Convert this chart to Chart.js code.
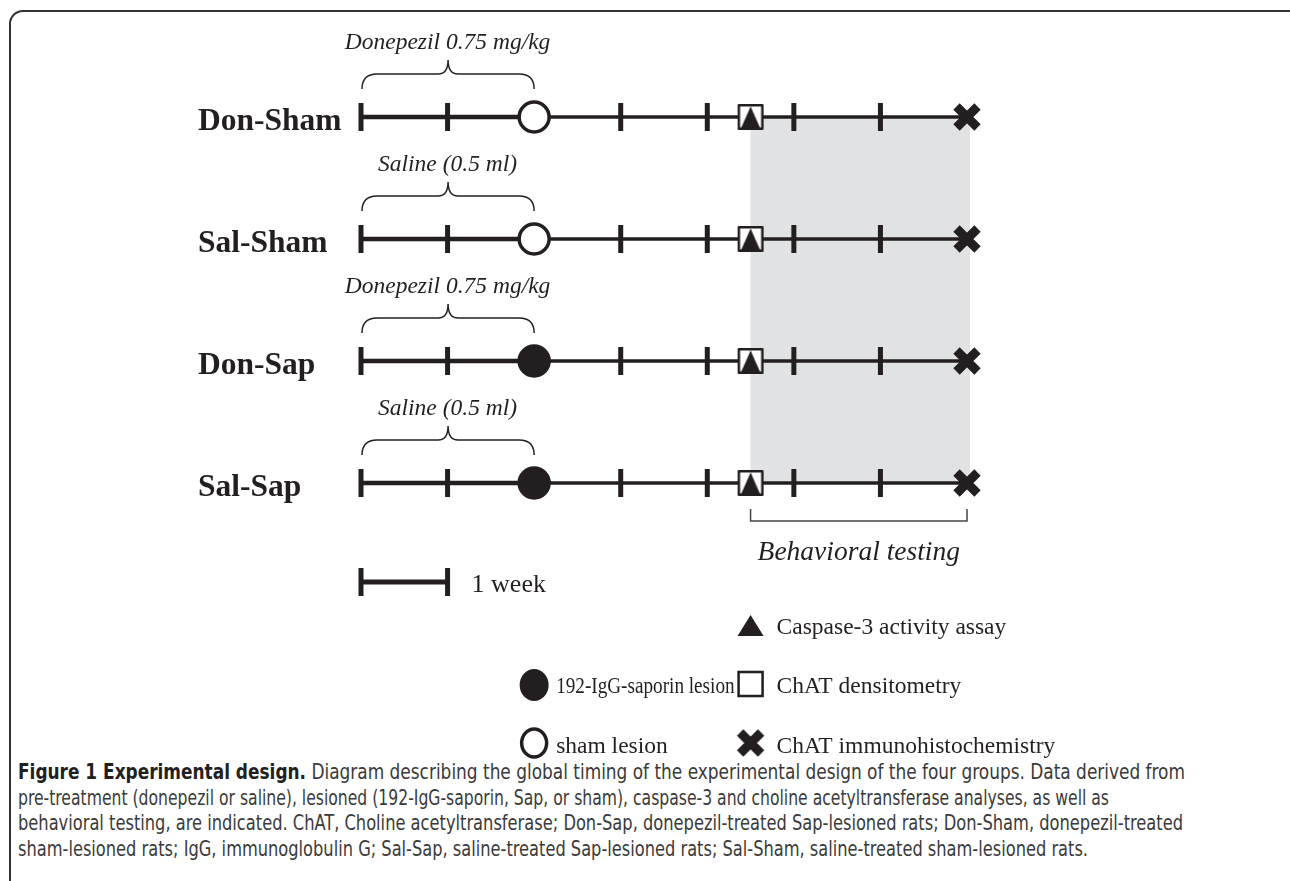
<!DOCTYPE html>
<html>
<head>
<meta charset="utf-8">
<title>Experimental design</title>
<script src="https://cdn.jsdelivr.net/npm/chart.js@4.4.1/dist/chart.umd.min.js"></script>
<style>
    html, body { margin: 0; padding: 0; background: #fff; width: 1290px; height: 881px; overflow: hidden; }
    #frame { position: absolute; left: 9px; top: 10px; width: 1300px; height: 940px; border: 2px solid #333; border-radius: 14px; box-sizing: border-box; }
    #chart { position: absolute; left: 0; top: 0; }
    #caption { position: absolute; left: 18px; top: 760px; font-family: "Liberation Sans Narrow", "DejaVu Sans Condensed", "Open Sans", sans-serif; font-size: 21px; line-height: 25.7px; color: #3a3a3a; }
    #caption div { white-space: nowrap; transform-origin: left center; width: max-content; }
    #caption b { color: #231f20; }
</style>
</head>
<body>
<div id="frame"></div>
<canvas id="chart" width="1290" height="760"></canvas>
<div id="caption">
    <div><b>Figure 1 Experimental design.</b> Diagram describing the global timing of the experimental design of the four groups. Data derived from</div>
    <div>pre-treatment (donepezil or saline), lesioned (192-IgG-saporin, Sap, or sham), caspase-3 and choline acetyltransferase analyses, as well as</div>
    <div>behavioral testing, are indicated. ChAT, Choline acetyltransferase; Don-Sap, donepezil-treated Sap-lesioned rats; Don-Sham, donepezil-treated</div>
    <div>sham-lesioned rats; IgG, immunoglobulin G; Sal-Sap, saline-treated Sap-lesioned rats; Sal-Sham, saline-treated sham-lesioned rats.</div>
</div>
<script>
// groups and their timelines (weeks)
const groups = ["Don-Sham", "Sal-Sham", "Don-Sap", "Sal-Sap"];
const pretreatments = ["Donepezil 0.75 mg/kg", "Saline (0.5 ml)", "Donepezil 0.75 mg/kg", "Saline (0.5 ml)"];
const lesionTypes = ["sham", "sham", "sap", "sap"];
const tickWeeks = [0, 1, 3, 4, 5, 6];
const pretreatStart = 0;
const lesionWeek = 2;
const caspaseWeek = 4.5;
const ihcWeek = 7;
const behaviorStart = 4.5;
const behaviorEnd = 7;
const timelineEnd = 7;
const scaleBarWeeks = 1;
const legendLeft = ["192-IgG-saporin lesion", "sham lesion"];
const legendRight = ["Caspase-3 activity assay", "ChAT densitometry", "ChAT immunohistochemistry"];

const ink = "#231f20";
const serif = "'Liberation Serif', 'Times New Roman', serif";

// pixel layout of the week axis and the rows
const W = 1290, H = 760;
const week0Px = 361, pxPerWeek = 606 / 7;
const row0Px = 117, pxPerRow = 122;

function makeAssayIcon() {
    const c = document.createElement("canvas");
    c.width = 28; c.height = 28;
    const g = c.getContext("2d");
    g.fillStyle = "#fff";
    g.fillRect(2, 2, 24, 24);
    g.fillStyle = ink;
    g.beginPath();
    g.moveTo(14, 3.5); g.lineTo(23.5, 25); g.lineTo(4.5, 25); g.closePath();
    g.fill();
    g.strokeStyle = ink; g.lineWidth = 2.5; g.lineJoin = "round";
    g.strokeRect(2.25, 2.25, 23.5, 23.5);
    return c;
}

function makeCrossIcon() {
    const c = document.createElement("canvas");
    c.width = 30; c.height = 30;
    const g = c.getContext("2d");
    g.strokeStyle = ink; g.lineWidth = 9; g.lineCap = "butt";
    g.beginPath();
    g.moveTo(4.5, 4.5); g.lineTo(25.5, 25.5);
    g.moveTo(25.5, 4.5); g.lineTo(4.5, 25.5);
    g.stroke();
    return c;
}

const assayIcon = makeAssayIcon();
const crossIcon = makeCrossIcon();

function drawBrace(ctx, xl, xr, yTip, yEnd) {
    const xc = (xl + xr) / 2;
    const yMid = yTip + 14;
    ctx.beginPath();
    ctx.moveTo(xl, yEnd);
    ctx.quadraticCurveTo(xl, yMid, xl + 15, yMid);
    ctx.lineTo(xc - 10, yMid);
    ctx.quadraticCurveTo(xc, yMid, xc, yTip);
    ctx.quadraticCurveTo(xc, yMid, xc + 10, yMid);
    ctx.lineTo(xr - 15, yMid);
    ctx.quadraticCurveTo(xr, yMid, xr, yEnd);
    ctx.stroke();
}

const diagramPlugin = {
    id: "diagram",
    beforeDatasetsDraw(chart) {
        const { ctx, scales: { x, y } } = chart;
        ctx.save();
        ctx.fillStyle = "#e1e2e4";
        const bx0 = x.getPixelForValue(behaviorStart);
        const bx1 = x.getPixelForValue(behaviorEnd) + 3;
        const by0 = y.getPixelForValue(0);
        const by1 = y.getPixelForValue(groups.length - 1);
        ctx.fillRect(bx0, by0, bx1 - bx0, by1 - by0);
        ctx.restore();
    },
    afterDatasetsDraw(chart) {
        const { ctx, scales: { x, y } } = chart;
        ctx.save();
        ctx.fillStyle = ink;
        ctx.strokeStyle = ink;

        groups.forEach((g, i) => {
            const ry = y.getPixelForValue(i);
            ctx.font = "bold 31.5px " + serif;
            ctx.textAlign = "left";
            ctx.textBaseline = "alphabetic";
            ctx.fillText(g, 198, ry + 13);

            ctx.font = "italic 23.5px " + serif;
            ctx.textAlign = "center";
            const xl = x.getPixelForValue(pretreatStart);
            const xr = x.getPixelForValue(lesionWeek);
            ctx.fillText(pretreatments[i], (xl + xr) / 2, ry - 68);
            ctx.lineWidth = 1.5;
            drawBrace(ctx, xl + 1, xr, ry - 57, ry - 28);
        });

        // behavioral testing bracket
        const bx0 = x.getPixelForValue(behaviorStart);
        const bx1 = x.getPixelForValue(behaviorEnd);
        const bY = 521;
        ctx.strokeStyle = "#444";
        ctx.lineWidth = 1.5;
        ctx.beginPath();
        ctx.moveTo(bx0, bY - 12); ctx.lineTo(bx0, bY); ctx.lineTo(bx1, bY); ctx.lineTo(bx1, bY - 12);
        ctx.stroke();
        ctx.font = "italic 27.5px " + serif;
        ctx.textAlign = "center";
        ctx.fillText("Behavioral testing", (bx0 + bx1) / 2, 560);

        // 1 week scale bar
        const sx0 = x.getPixelForValue(0), sx1 = x.getPixelForValue(scaleBarWeeks);
        const sY = 582;
        ctx.strokeStyle = ink;
        ctx.lineWidth = 5;
        ctx.beginPath();
        ctx.moveTo(sx0, sY); ctx.lineTo(sx1, sY);
        ctx.moveTo(sx0, sY - 14); ctx.lineTo(sx0, sY + 14);
        ctx.moveTo(sx1, sY - 14); ctx.lineTo(sx1, sY + 14);
        ctx.stroke();
        ctx.font = "26px " + serif;
        ctx.textAlign = "left";
        ctx.fillText("1 week", sx1 + 24, sY + 10);

        // legend, left column (lesions)
        ctx.font = "23.5px " + serif;
        const rows = [626, 685, 745];
        const lx = x.getPixelForValue(lesionWeek);
        const rx = x.getPixelForValue(caspaseWeek);
        ctx.beginPath();
        ctx.ellipse(lx, rows[1], 14.5, 16, 0, 0, Math.PI * 2);
        ctx.fill();
        ctx.lineWidth = 3.5;
        ctx.beginPath();
        ctx.ellipse(lx, rows[2] - 2, 12.5, 14, 0, 0, Math.PI * 2);
        ctx.stroke();
        ctx.fillText(legendLeft[0], lx + 22, rows[1] + 8, rx - 16 - (lx + 22));
        ctx.fillText(legendLeft[1], lx + 22, rows[2] + 8);

        // legend, right column (analyses)
        ctx.beginPath();
        ctx.moveTo(rx, rows[0] - 11); ctx.lineTo(rx + 13, rows[0] + 10); ctx.lineTo(rx - 13, rows[0] + 10);
        ctx.closePath();
        ctx.fill();
        ctx.lineWidth = 2.5;
        ctx.strokeRect(rx - 12, rows[1] - 13, 24, 24);
        ctx.drawImage(crossIcon, rx - 15, rows[2] - 17);
        legendRight.forEach((t, i) => ctx.fillText(t, rx + 26, rows[i] + 8));

        ctx.restore();
    }
};

const datasets = [];

// markers first so they are drawn on top
datasets.push({
    label: "ChAT immunohistochemistry",
    data: groups.map((g, i) => ({ x: ihcWeek, y: i })),
    pointStyle: crossIcon,
    pointRadius: 15
});
datasets.push({
    label: "Caspase-3 / ChAT densitometry",
    data: groups.map((g, i) => ({ x: caspaseWeek, y: i })),
    pointStyle: assayIcon,
    pointRadius: 14
});
datasets.push({
    label: "Lesion",
    data: groups.map((g, i) => ({ x: lesionWeek, y: i })),
    pointStyle: "circle",
    pointRadius: 15,
    borderWidth: 3.5,
    pointBorderColor: ink,
    pointBackgroundColor: lesionTypes.map(t => t === "sap" ? ink : "#fff")
});
datasets.push({
    label: "Weeks",
    data: groups.flatMap((g, i) => tickWeeks.map(w => ({ x: w, y: i }))),
    pointStyle: "line",
    rotation: 90,
    pointRadius: 14,
    borderWidth: 5,
    pointBorderColor: ink
});
groups.forEach((g, i) => {
    datasets.push({
        label: g + " pre",
        data: [{ x: pretreatStart, y: i }, { x: lesionWeek, y: i }],
        showLine: true,
        borderColor: ink,
        borderWidth: 4.5,
        pointRadius: 0
    });
    datasets.push({
        label: g + " post",
        data: [{ x: lesionWeek, y: i }, { x: timelineEnd, y: i }],
        showLine: true,
        borderColor: ink,
        borderWidth: 3.5,
        pointRadius: 0
    });
});

const chart = new Chart(document.getElementById("chart").getContext("2d"), {
    type: "scatter",
    data: { datasets },
    options: {
        responsive: false,
        animation: false,
        events: [],
        layout: { padding: 0, autoPadding: false },
        plugins: { legend: { display: false }, tooltip: { enabled: false } },
        scales: {
            x: { type: "linear", display: false, min: -week0Px / pxPerWeek, max: (W - week0Px) / pxPerWeek },
            y: { type: "linear", display: false, reverse: true, min: -row0Px / pxPerRow, max: (H - row0Px) / pxPerRow }
        }
    },
    plugins: [diagramPlugin]
});

// fit caption lines to the widths of the printed figure
const captionEnds = [1185, 1109, 1183, 1088];
document.querySelectorAll("#caption div").forEach((d, i) => {
    const natural = d.getBoundingClientRect().width;
    d.style.transform = "scaleX(" + ((captionEnds[i] - 18) / natural) + ")";
});
</script>
</body>
</html>
